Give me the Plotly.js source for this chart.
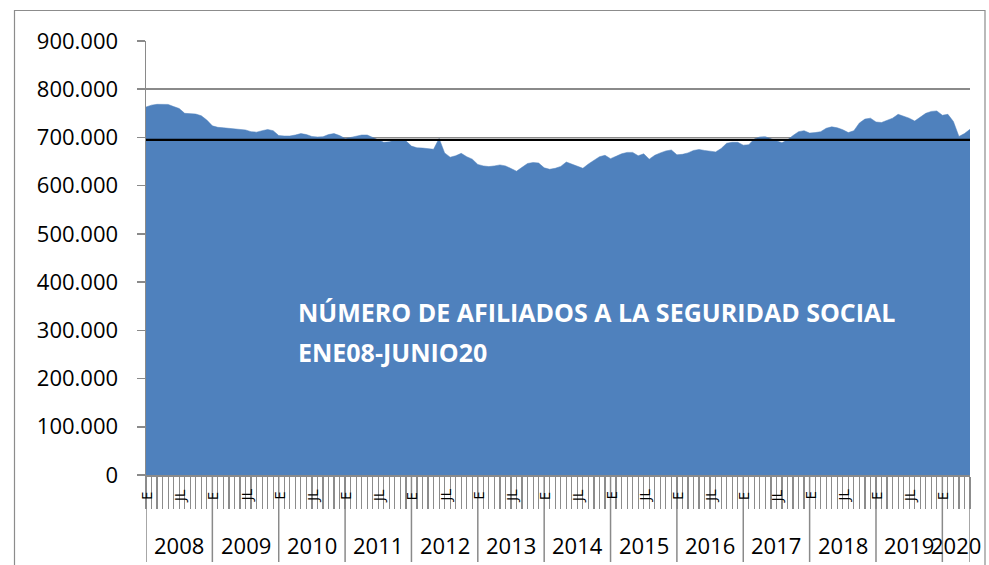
<!DOCTYPE html>
<html>
<head>
<meta charset="utf-8">
<script src="https://cdn.plot.ly/plotly-3.0.1.min.js"></script>
<style>
  html, body { margin: 0; padding: 0; background: #ffffff; }
  #chart { width: 989px; height: 565px; }
</style>
</head>
<body>
<div id="chart"></div>
<script>
// ---- Data ----
const years = ['2008','2009','2010','2011','2012','2013','2014','2015','2016','2017','2018','2019','2020'];
const monthLabels = ['E','','','','','','JL','','','','',''];
const afiliados2008 = [763000, 767000, 768700, 768700, 768500, 764000, 760000, 750000, 749000, 748500, 745000, 736000];
const afiliados2009 = [724000, 721000, 720000, 719000, 718500, 717000, 715500, 712000, 711000, 714000, 716500, 714000];
const afiliados2010 = [704000, 703000, 703000, 705000, 708000, 706000, 702000, 701000, 701500, 706000, 708000, 704000];
const afiliados2011 = [698000, 700000, 703000, 705000, 705000, 700000, 694000, 690000, 691000, 694500, 694000, 693000];
const afiliados2012 = [682000, 678500, 678000, 677000, 675500, 698000, 668000, 659000, 662000, 667000, 660000, 655000];
const afiliados2013 = [644000, 641000, 639500, 641000, 643000, 641000, 635000, 630000, 638000, 646000, 648000, 647000];
const afiliados2014 = [637000, 634000, 636000, 640000, 649000, 645000, 640000, 636000, 645000, 653000, 660000, 663000];
const afiliados2015 = [656000, 661000, 666000, 669000, 669000, 662000, 666000, 655000, 663000, 668000, 672000, 674000];
const afiliados2016 = [664000, 665000, 668000, 673000, 675000, 673000, 671000, 670000, 677000, 688000, 690000, 690000];
const afiliados2017 = [684000, 685000, 697000, 701000, 701500, 698000, 693000, 689000, 695000, 704000, 712000, 714000];
const afiliados2018 = [709000, 710000, 712000, 719000, 722000, 720000, 716000, 710000, 714000, 730000, 738000, 740000];
const afiliados2019 = [732000, 731000, 735000, 740000, 748000, 744000, 740000, 734000, 742000, 750000, 754000, 755000];
const afiliados2020 = [746000, 748000, 733000, 702000, 708000, 717000];
const mediaPeriodo = 695000;
const yTicks = [0, 100000, 200000, 300000, 400000, 500000, 600000, 700000, 800000, 900000];
const chartTitle = ['NÚMERO DE AFILIADOS A LA SEGURIDAD SOCIAL', 'ENE08-JUNIO20'];

// ---- Build series ----
const series = [afiliados2008, afiliados2009, afiliados2010, afiliados2011, afiliados2012,
  afiliados2013, afiliados2014, afiliados2015, afiliados2016, afiliados2017,
  afiliados2018, afiliados2019, afiliados2020];
const values = [].concat(...series);
const xIdx = values.map((_, i) => i);
const n = values.length;

// geometry of the plot area (pixels)
const W = 989, H = 565;
const M = {l: 146, r: 19, t: 41, b: 90};
const plotW = W - M.l - M.r, plotH = H - M.t - M.b;
const px2py = (py) => (H - M.b - py) / plotH;   // page y pixel -> paper y
const px2px = (p) => (p - M.l) / plotW;          // page x pixel -> paper x

const FONT = 'Open Sans, Liberation Sans, sans-serif';
const GRID = '#8a8a8a';

const traces = [
  {
    x: xIdx, y: values, type: 'scatter', mode: 'lines',
    fill: 'tozeroy', fillcolor: '#4F81BD',
    line: {color: '#4F81BD', width: 0.5},
    hoverinfo: 'x+y', showlegend: false
  },
  {
    x: [0, n - 1], y: [mediaPeriodo, mediaPeriodo], type: 'scatter', mode: 'lines',
    line: {color: '#000000', width: 2.2}, hoverinfo: 'skip', showlegend: false
  }
];

const annotations = [];
const shapes = [];
// month labels + year labels + year separators
let start = 0;
series.forEach((arr, yi) => {
  arr.forEach((_, mi) => {
    if (monthLabels[mi]) {
      annotations.push({
        x: start + mi, xref: 'x', y: px2py(496), yref: 'paper',
        text: monthLabels[mi], showarrow: false, textangle: -90,
        font: {family: FONT, size: 15, color: '#000'},
        xanchor: 'center', yanchor: 'middle'
      });
    }
  });
  const end = Math.min(start + 12, n - 1);
  annotations.push({
    x: (start + end) / 2, xref: 'x', y: px2py(545), yref: 'paper',
    text: years[yi], showarrow: false,
    font: {family: FONT, size: 22, color: '#000'},
    xanchor: 'center', yanchor: 'middle'
  });
  shapes.push({
    type: 'line', xref: 'x', yref: 'paper', x0: start, x1: start,
    y0: 0, y1: px2py(562), line: {color: GRID, width: 1.5}
  });
  start += arr.length;
});
shapes.push({
  type: 'line', xref: 'x', yref: 'paper', x0: n - 1, x1: n - 1,
  y0: 0, y1: px2py(562), line: {color: GRID, width: 1.5}
});
// outer chart border
shapes.push({
  type: 'rect', xref: 'paper', yref: 'paper',
  x0: px2px(14.5), x1: px2px(985), y0: px2py(600), y1: px2py(10.5),
  line: {color: '#8c8c8c', width: 1.2}, fillcolor: 'rgba(0,0,0,0)', layer: 'below'
});
// title text inside the area
annotations.push({
  x: px2px(296), xref: 'paper', y: px2py(312), yref: 'paper',
  text: '<b>' + chartTitle[0] + '</b>', showarrow: false,
  font: {family: FONT, size: 25, color: '#ffffff'},
  xanchor: 'left', yanchor: 'middle'
});
annotations.push({
  x: px2px(296), xref: 'paper', y: px2py(352), yref: 'paper',
  text: '<b>' + chartTitle[1] + '</b>', showarrow: false,
  font: {family: FONT, size: 25, color: '#ffffff'},
  xanchor: 'left', yanchor: 'middle'
});

const layout = {
  width: W, height: H, autosize: false,
  margin: M,
  paper_bgcolor: '#ffffff', plot_bgcolor: '#ffffff',
  separators: ',.',
  showlegend: false,
  xaxis: {
    range: [0, n - 1], type: 'linear',
    tickmode: 'array', tickvals: xIdx, ticktext: xIdx.map(() => ''),
    ticks: 'outside', ticklen: 32, tickwidth: 1.2, tickcolor: '#8c8c8c',
    showgrid: false, zeroline: false,
    showline: true, linecolor: GRID, linewidth: 1.5,
    fixedrange: true
  },
  yaxis: {
    range: [0, 900000],
    tickmode: 'array', tickvals: yTicks, tickformat: ',',
    ticks: 'outside', ticklen: 8, tickwidth: 1.5, tickcolor: GRID,
    ticklabelstandoff: 14,
    tickfont: {family: FONT, size: 22, color: '#000'},
    showgrid: true, gridcolor: GRID, gridwidth: 1.5,
    zeroline: false,
    showline: true, linecolor: GRID, linewidth: 1.5,
    fixedrange: true
  },
  shapes: shapes,
  annotations: annotations
};

Plotly.newPlot('chart', traces, layout, {displayModeBar: false, staticPlot: true});
</script>
</body>
</html>
